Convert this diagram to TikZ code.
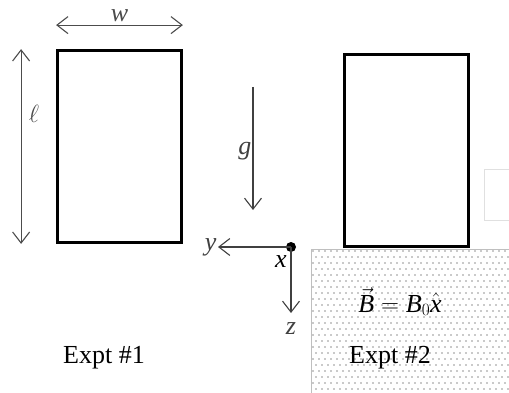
\documentclass[tikz,border=0pt]{standalone}
\usepackage{fontspec}
\setmainfont{Liberation Serif}
\usetikzlibrary{arrows.meta}

\begin{document}
\begin{tikzpicture}[x=1pt, y=-1pt,
    >={Straight Barb[length=11pt, width=17pt]},
    plate/.style={draw, line width=2.8pt, minimum width=124pt, minimum height=192pt, inner sep=0pt},
    dimarrow/.style={<->, line width=1.1pt, black!70},
    axis/.style={->, line width=1.1pt, black!75},
    lbl/.style={font=\fontsize{26}{30}\selectfont\itshape, inner sep=1pt},
    caption/.style={font=\fontsize{26}{30}\selectfont}]
  \useasboundingbox (0,0) rectangle (509,393);
  % Magnetic field region (Expt #2)
  \foreach \j in {0,...,24} {
    \foreach \i in {0,...,33} {
      \fill[black!90] ({313+6*\i+3*mod(\j,2)},{251+6*\j}) circle (0.7pt);
    }
  }
  \draw[black!25, line width=0.8pt] (311,393) -- (311,249) -- (509,249);
  % Faint box at the right edge
  \draw[black!12, line width=0.8pt] (509,169) -- (484,169) -- (484,220) -- (509,220);
  % Plates
  \node[plate] (plate1) at (119.5,146.5) {};
  \node[plate, fill=white] (plate2) at (406.5,150.5) {};
  % Dimensions of the plate
  \coordinate (wl) at ([yshift=24pt]plate1.north west);
  \coordinate (wr) at ([yshift=24pt]plate1.north east);
  \draw[dimarrow] (wl) -- (wr) node[midway, above, lbl, yshift=2pt] {w};
  \coordinate (lt) at ([xshift=-35pt]plate1.north west);
  \coordinate (lb) at ([xshift=-35pt]plate1.south west);
  \draw[dimarrow] (lt) -- (lb) node[pos=0.33, right, xshift=4pt, font=\fontsize{26}{30}\selectfont] {$\ell$};
  % Gravity
  \coordinate (gtop) at (253,87);
  \coordinate (gbot) at (253,210);
  \draw[axis] (gtop) -- (gbot) node[pos=0.52, left, lbl] {g};
  % Axes
  \node[circle, fill=black, inner sep=0pt, minimum size=10pt] (O) at (291,247) {};
  \coordinate (ytip) at (218,247);
  \coordinate (ztip) at (291,313);
  \draw[axis] (O.center) -- (ytip) node[left, lbl] {y};
  \draw[axis] (O.center) -- (ztip) node[below, lbl, yshift=-8pt] {z};
  \node[lbl] (xlbl) at (281,262) {x};
  % Labels
  \node[font=\fontsize{26}{30}\selectfont] (field) at (400,302) {$\vec{\mbox{\itshape B}} = \mbox{\itshape B}_0\hat{\mbox{\itshape x}}$};
  \node[caption] (cap1) at (104,358) {Expt \#1};
  \node[caption] (cap2) at (390,358) {Expt \#2};
\end{tikzpicture}
\end{document}
